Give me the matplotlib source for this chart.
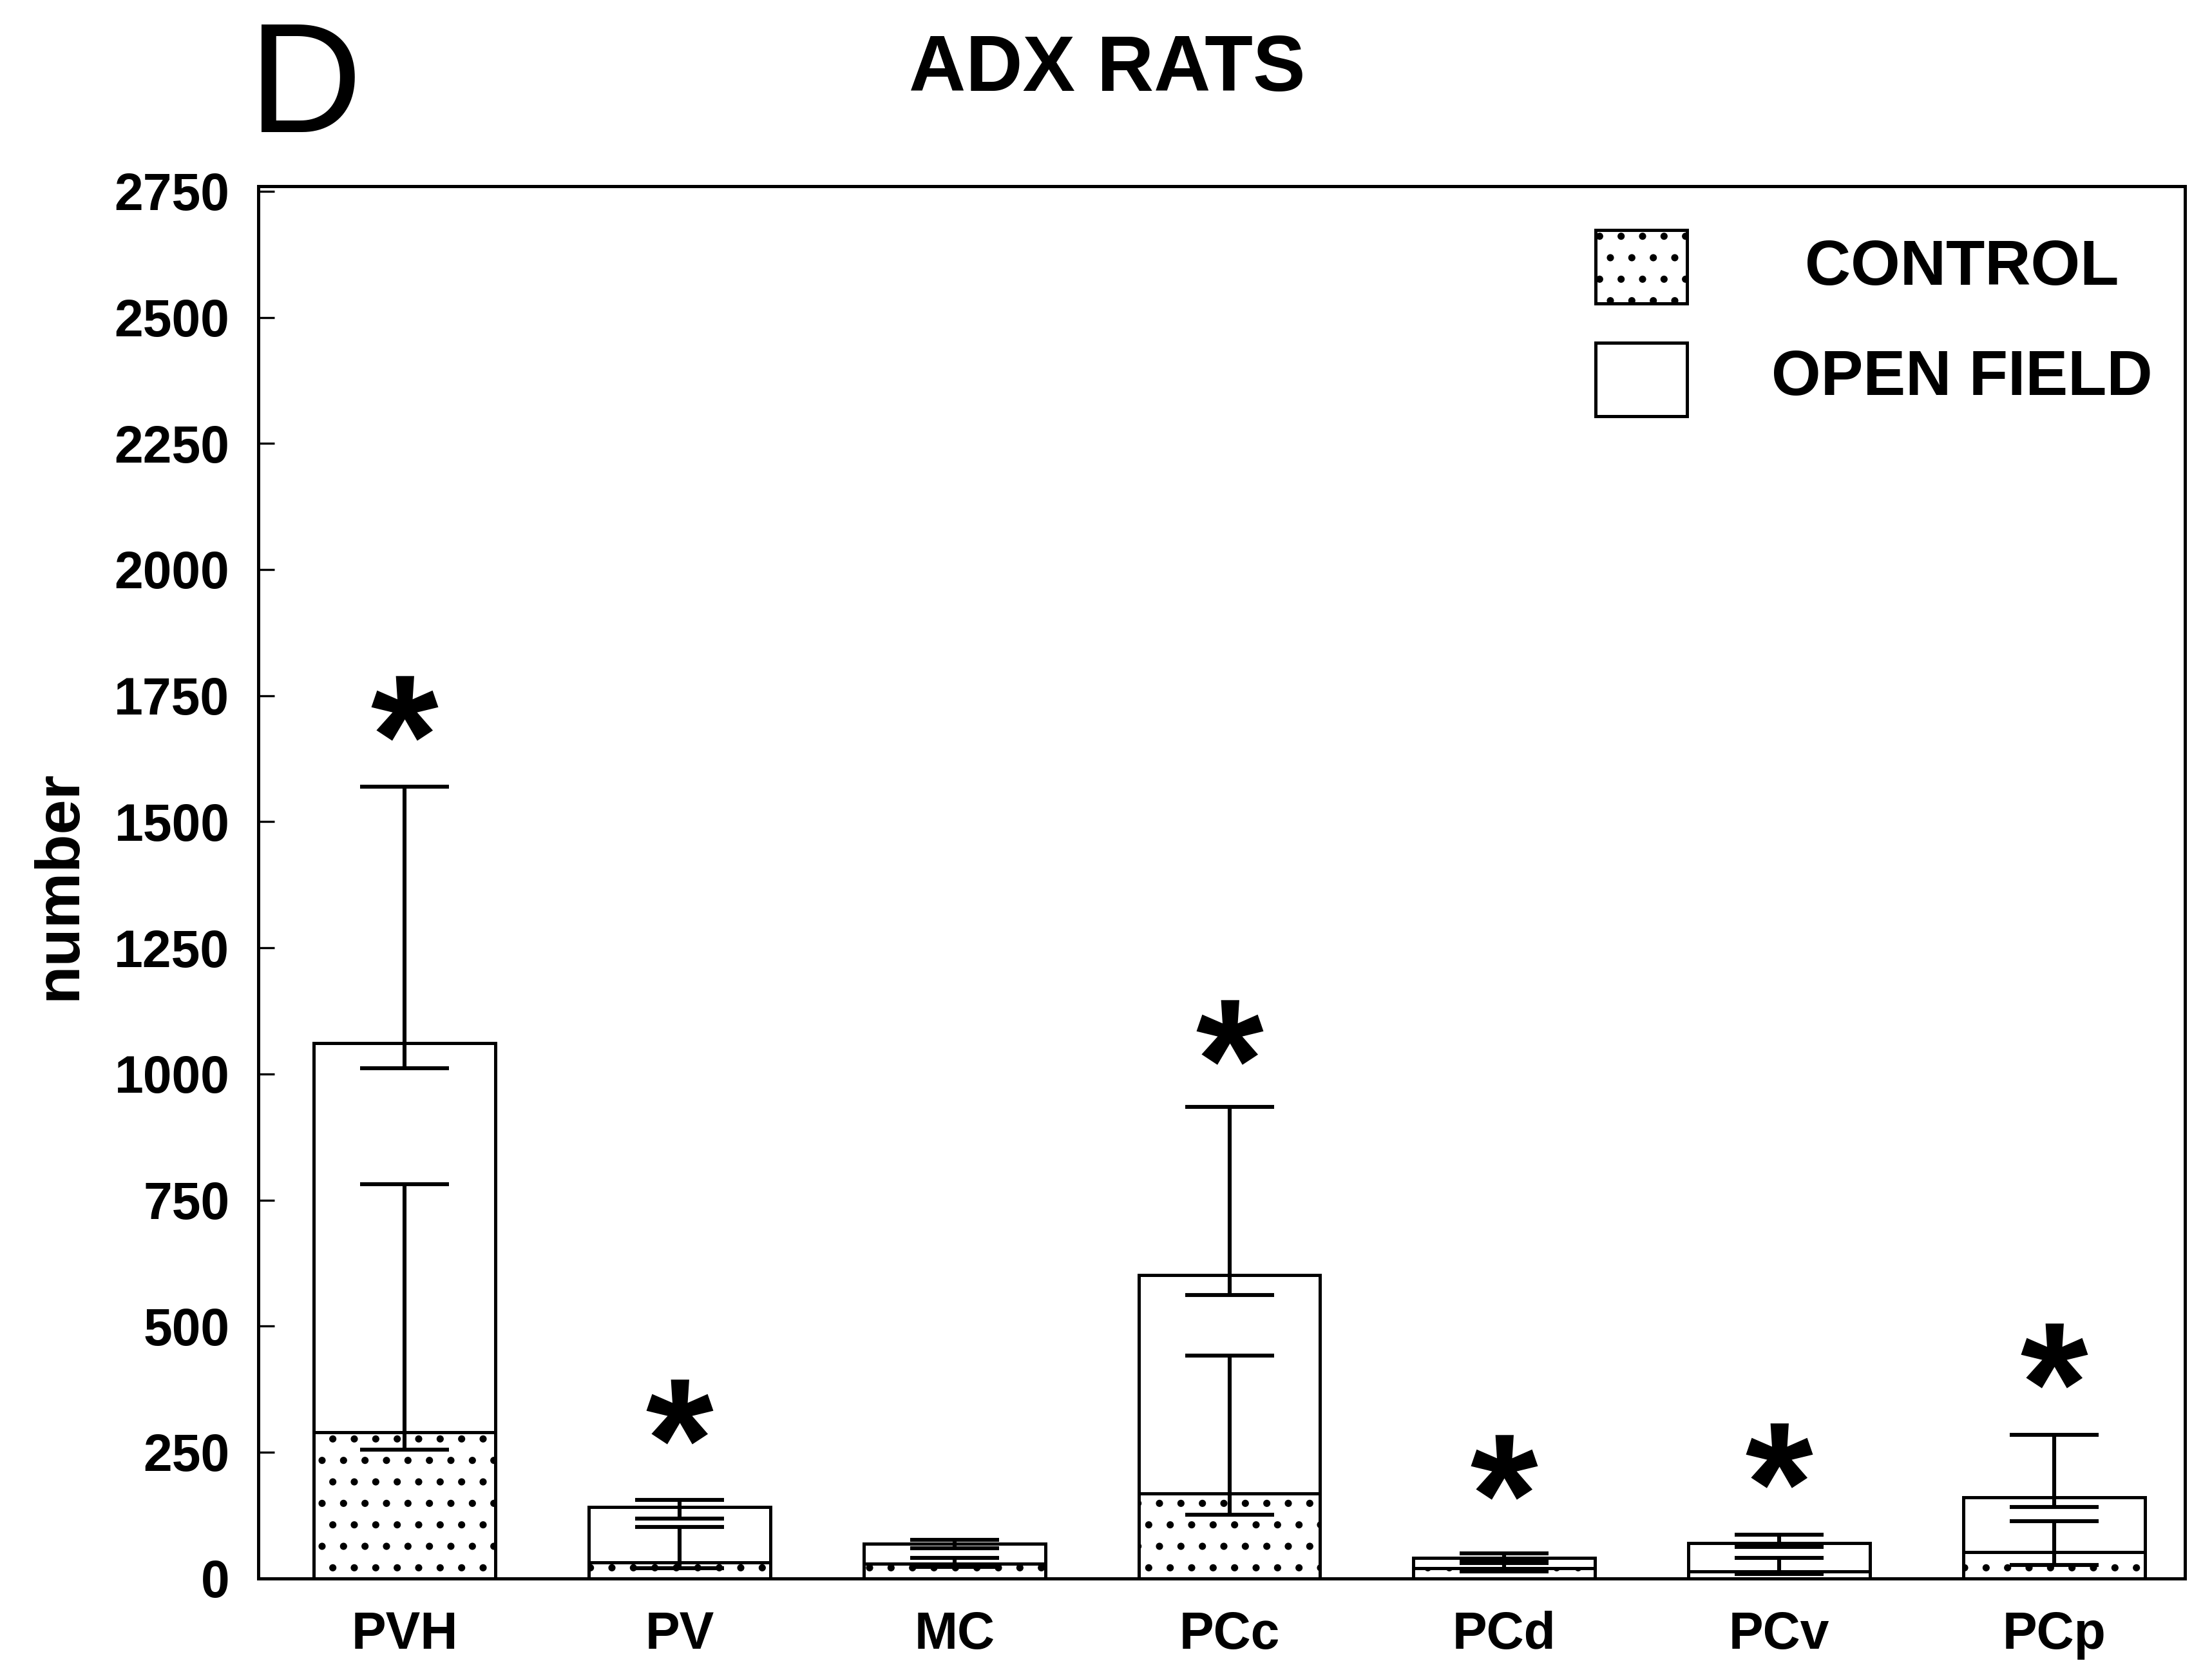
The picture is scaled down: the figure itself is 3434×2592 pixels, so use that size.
import numpy as np
import matplotlib
matplotlib.use('Agg')
import matplotlib.pyplot as plt
from matplotlib.patches import Rectangle
from matplotlib.textpath import TextPath
from matplotlib.font_manager import FontProperties
from matplotlib.path import Path

plt.rcParams['font.family'] = ['Liberation Sans', 'DejaVu Sans']
plt.rcParams['hatch.linewidth'] = 1.6

# data
regions = ['PVH', 'PV', 'MC', 'PCc', 'PCd', 'PCv', 'PCp']
open_field = [1061, 142, 68, 601, 40, 70, 161]
open_lo = [1011, 119, 60, 562, 34, 62, 142]
open_hi = [1569, 156, 76, 935, 49, 87, 285]
control = [290, 32, 29, 168, 20, 14, 52]
control_lo = [255, 20, 22, 126, 14, 8, 27]
control_hi = [781, 102, 40, 442, 30, 40, 113]
star_y = [1725, 330, np.nan, 1083, 221, 244, 442]
yticks = [0, 250, 500, 750, 1000, 1250, 1500, 1750, 2000, 2250, 2500, 2750]

x = np.arange(len(regions))
of = np.array(open_field)
ct = np.array(control)

fig = plt.figure(figsize=(17.17, 12.96), dpi=200)
ax = fig.add_axes([0.1167, 0.0549, 0.8712, 0.8336])

ax.bar(x, of, width=0.66, color='white', edgecolor='black', linewidth=1.8, zorder=2)
ax.errorbar(x, of, yerr=[of - np.array(open_lo), np.array(open_hi) - of], fmt='none',
            ecolor='black', elinewidth=2.2, capsize=25, capthick=2.2, zorder=3)
ax.bar(x, ct, width=0.66, color='white', edgecolor='black', linewidth=1.8,
       hatch='.', zorder=4)
ax.errorbar(x, ct, yerr=[ct - np.array(control_lo), np.array(control_hi) - ct], fmt='none',
            ecolor='black', elinewidth=2.2, capsize=25, capthick=2.2, zorder=5)

# asterisk marker built from the font glyph, centred on its outline
tp = TextPath((0, 0), '*', prop=FontProperties(family='Liberation Sans', weight='bold'))
v = tp.vertices.copy()
codes = tp.codes
real = codes != Path.CLOSEPOLY
mid = (v[real].min(axis=0) + v[real].max(axis=0)) / 2
v[~real] = mid
v -= mid
star = Path(v, codes)
ax.scatter(x, star_y, marker=star, s=1400, color='black', linewidths=0, zorder=6)

ax.set_xlim(-0.533, 6.477)
ax.set_ylim(0, 2760)
ax.set_yticks(yticks)
ax.set_yticklabels([str(t) for t in yticks], fontsize=29, fontweight='bold')
ax.set_xticks(x)
ax.set_xticklabels(regions, fontsize=29, fontweight='bold')
ax.tick_params(axis='y', direction='in', length=9, width=1.2, pad=16)
ax.tick_params(axis='x', length=0, pad=18)
for s in ax.spines.values():
    s.set_linewidth(1.8)

# legend
ax.add_patch(Rectangle((0.694, 0.916), 0.0474, 0.0527, transform=ax.transAxes,
                       facecolor='white', edgecolor='black', linewidth=1.8, hatch='.'))
ax.add_patch(Rectangle((0.694, 0.835), 0.0474, 0.0527, transform=ax.transAxes,
                       facecolor='white', edgecolor='black', linewidth=1.8))
ax.text(0.884, 0.941, 'CONTROL', transform=ax.transAxes, ha='center', va='center',
        fontsize=35.5, fontweight='bold')
ax.text(0.884, 0.862, 'OPEN FIELD', transform=ax.transAxes, ha='center', va='center',
        fontsize=35.5, fontweight='bold')

fig.text(0.5006, 0.958, 'ADX RATS', ha='center', va='center', fontsize=44, fontweight='bold')
fig.text(0.138, 0.945, 'D', ha='center', va='center', fontsize=88)
fig.text(0.0268, 0.470, 'number', rotation=90, ha='center', va='center',
         fontsize=35, fontweight='bold')

fig.savefig('out.png', dpi=200)
